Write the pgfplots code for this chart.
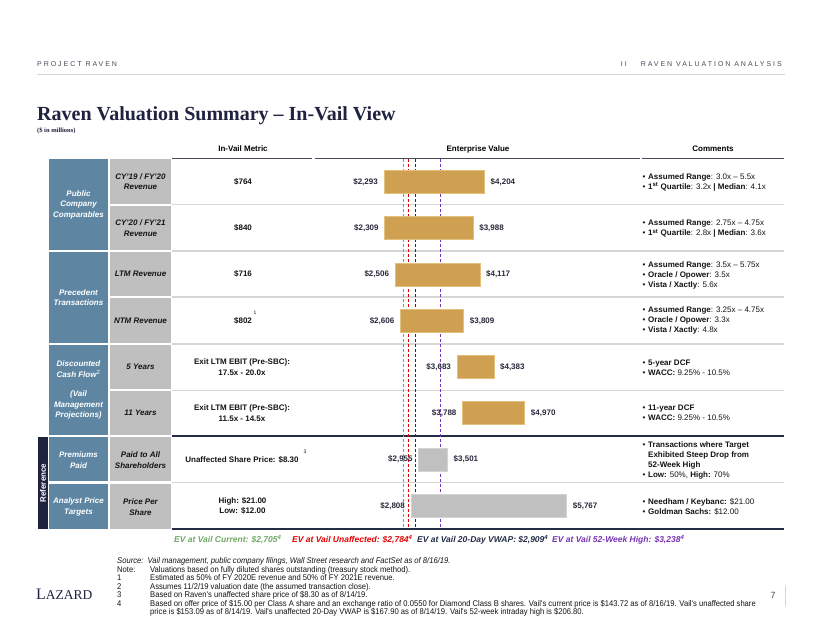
\documentclass[border=0pt]{standalone}
\usepackage{fontspec}
\setmainfont{Liberation Sans}
\newfontfamily\serifbf{Liberation Serif}
\newfontfamily\narrowf{Liberation Sans}[FakeStretch=0.92]
\newfontfamily\spacedf{Liberation Sans}[LetterSpace=28]
\usepackage{pgfplots}
\pgfplotsset{compat=1.18}
\definecolor{navy}{RGB}{31,35,64}
\definecolor{boxblue}{RGB}{94,134,163}
\definecolor{boxgray}{RGB}{191,191,191}
\definecolor{sepgray}{RGB}{214,214,214}
\definecolor{tanbar}{RGB}{207,160,82}
\definecolor{tanedge}{RGB}{228,192,125}
\definecolor{graybar}{RGB}{192,192,192}
\definecolor{grayedge}{RGB}{212,212,212}
\definecolor{lgreen}{RGB}{112,168,100}
\definecolor{lred}{RGB}{230,0,0}
\definecolor{lnavy}{RGB}{35,45,70}
\definecolor{lpurple}{RGB}{120,50,180}
\definecolor{hdrgray}{RGB}{70,75,90}
\definecolor{txt}{RGB}{20,20,20}
\definecolor{evtxt}{RGB}{40,42,60}
\newcommand{\fs}[2]{\fontsize{#1}{#2}\selectfont}
\newcommand{\cm}[2]{%
  \node[anchor=mid west,inner sep=0pt,font=\fs{8}{10},text=txt] at (648,#1) {#2};
  \node[anchor=mid west,inner sep=0pt,font=\fs{8}{10},text=txt] at (642.5,#1) {•};}
\newcommand{\cmc}[2]{%
  \node[anchor=mid west,inner sep=0pt,font=\fs{8}{10},text=txt] at (648,#1) {#2};}
\newcommand{\fn}[3]{%
  \node[anchor=mid west,inner sep=0pt,font=\narrowf\fs{8.3}{9},text=txt] at (117,#1) {#2};
  \node[anchor=mid west,inner sep=0pt,font=\narrowf\fs{8.3}{9},text=txt] at (150,#1) {#3};}
\pgfplotsset{evaxis/.style={
  at={(477.5pt,-344pt)}, anchor=center,
  width=325pt, height=370pt, scale only axis,
  xmin=981, xmax=7161, ymin=0.5, ymax=8.5, y dir=reverse,
  hide axis, clip=false}}
\begin{document}
\begin{tikzpicture}[x=1pt,y=-1pt]
\path[use as bounding box, fill=white] (0,0) rectangle (822,635);
% page header
\node[anchor=mid west,inner sep=0pt,font=\spacedf\fs{7}{8},text=hdrgray] at (37,64) {PROJECT RAVEN};
\node[anchor=mid east,inner sep=0pt,font=\spacedf\fs{7}{8},text=hdrgray] at (782,64) {II\hspace{14pt}RAVEN VALUATION ANALYSIS};
\draw[sepgray,line width=0.8pt] (37,74) -- (785,74);
\node[anchor=base west,inner sep=0pt,font=\serifbf\bfseries\fs{20}{24},text=navy] at (37,120) {Raven Valuation Summary – In-Vail View};
\node[anchor=mid west,inner sep=0pt,font=\serifbf\bfseries\fs{6.5}{8},text=navy] at (37,130) {(\$ in millions)};
% column headers
\node[font=\bfseries\fs{8}{10},inner sep=0pt,anchor=mid] at (243,149) {In-Vail Metric};
\node[font=\bfseries\fs{8}{10},inner sep=0pt,anchor=mid] at (478,149) {Enterprise Value};
\node[font=\bfseries\fs{8}{10},inner sep=0pt,anchor=mid] at (713,149) {Comments};
\draw[hdrgray,line width=0.9pt] (172,158) -- (312,158) (315,158) -- (640,158) (642,158) -- (784,158);
% row separators
\foreach \yy in {204.5,251,297,344,390.5,482.5}{\draw[sepgray,line width=1.5pt] (172,\yy) -- (784,\yy);}
\draw[lnavy,line width=1.2pt] (172,436) -- (784,436);
\draw[lnavy,line width=1.2pt] (172,529) -- (784,529);
% left boxes
\fill[navy] (38,437) rectangle (48,529);
\node[rotate=90,font=\bfseries\fs{8}{10},text=white,inner sep=0pt] at (43,483) {Reference};
\fill[boxblue] (49,159) rectangle (108,250);
\fill[boxblue] (49,252) rectangle (108,343);
\fill[boxblue] (49,345) rectangle (108,435);
\fill[boxblue] (49,437) rectangle (108,481);
\fill[boxblue] (49,484) rectangle (108,529);
\foreach \ya/\yb in {159/203.5,205.5/250,252/296,298/343,345/389,391/435,437/481,484/529}{\fill[boxgray] (110,\ya) rectangle (171,\yb);}
\begin{scope}[every node/.style={font=\bfseries\itshape\fs{8}{10.5},text=white,align=center,inner sep=0pt}]
\node at (78.5,204.5) {Public\\Company\\Comparables};
\node at (78.5,297.5) {Precedent\\Transactions};
\node at (78.5,369) {Discounted\\Cash Flow\textsuperscript{\mdseries\upshape 2}};
\node at (78.5,405) {(Vail\\Management\\Projections)};
\node at (78.5,460) {Premiums\\Paid};
\node at (78.5,507) {Analyst Price\\Targets};
\end{scope}
\begin{scope}[every node/.style={font=\bfseries\itshape\fs{8}{10.5},text=txt,align=center,inner sep=0pt}]
\node at (140.5,181.5) {CY'19 / FY'20\\Revenue};
\node at (140.5,228) {CY'20 / FY'21\\Revenue};
\node at (140.5,274) {LTM Revenue};
\node at (140.5,320.5) {NTM Revenue};
\node at (140.5,367) {5 Years};
\node at (140.5,413) {11 Years};
\node at (140.5,460) {Paid to All\\Shareholders};
\node at (140.5,507) {Price Per\\Share};
\end{scope}
% metric column
\begin{scope}[every node/.style={font=\bfseries\fs{8}{10.5},text=txt,align=center,inner sep=0pt}]
\node at (243,181.5) {\$764};
\node at (243,228) {\$840};
\node at (243,274) {\$716};
\node at (243,320.5) {\$802};
\node at (242,367) {Exit LTM EBIT (Pre-SBC):\\17.5x - 20.0x};
\node at (242,413) {Exit LTM EBIT (Pre-SBC):\\11.5x - 14.5x};
\node at (242,460) {Unaffected Share Price: \$8.30};
\node at (242.5,506) {High: \$21.00\\Low: \$12.00};
\end{scope}
\node[font=\fs{5}{6},text=txt,inner sep=0pt] at (255,313) {1};
\node[font=\fs{5}{6},text=txt,inner sep=0pt] at (305,452) {3};
% reference lines
\begin{axis}[evaxis]
\addplot[lgreen,line width=1.3pt,dash pattern=on 3pt off 2pt] coordinates {(2660,0.5) (2660,8.5)};
\addplot[lred,line width=1.3pt,dash pattern=on 3pt off 2pt] coordinates {(2755,0.5) (2755,8.5)};
\addplot[lnavy,line width=1.3pt,dash pattern=on 3pt off 2pt] coordinates {(2896,0.5) (2896,8.5)};
\addplot[lpurple,line width=1.1pt,dash pattern=on 3pt off 2pt] coordinates {(3364,0.5) (3364,8.5)};
\end{axis}
% valuation bars (methodologies): invisible offset + visible range
\begin{axis}[evaxis, xbar stacked, bar width=23pt]
\addplot[draw=none,fill=none]
 coordinates {(2293,1) (2309,2) (2506,3) (2606,4) (3683,5) (3788,6)};
\addplot[fill=tanbar,draw=tanedge,line width=0.8pt]
 coordinates {(1911,1) (1679,2) (1611,3) (1203,4) (700,5) (1182,6)};
\end{axis}
% reference bars
\begin{axis}[evaxis, xbar stacked, bar width=23pt]
\addplot[draw=none,fill=none]
 coordinates {(2955,7) (2808,8)};
\addplot[fill=graybar,draw=grayedge,line width=0.8pt]
 coordinates {(546,7) (2959,8)};
\end{axis}
% value labels
\begin{axis}[evaxis, nodes near coords, point meta=explicit symbolic]
\addplot[only marks,mark=none,every node near coord/.append style={anchor=east,xshift=-6pt,font=\bfseries\fs{8}{10},text=evtxt,inner sep=0pt}]
 coordinates {(2293,1) [{\$2,293}] (2309,2) [{\$2,309}] (2506,3) [{\$2,506}] (2606,4) [{\$2,606}] (3683,5) [{\$3,683}] (3788,6) [{\$3,788}] (2955,7) [{\$2,955}] (2808,8) [{\$2,808}]};
\addplot[only marks,mark=none,every node near coord/.append style={anchor=west,xshift=6pt,font=\bfseries\fs{8}{10},text=evtxt,inner sep=0pt}]
 coordinates {(4204,1) [{\$4,204}] (3988,2) [{\$3,988}] (4117,3) [{\$4,117}] (3809,4) [{\$3,809}] (4383,5) [{\$4,383}] (4970,6) [{\$4,970}] (3501,7) [{\$3,501}] (5767,8) [{\$5,767}]};
\end{axis}
% comments
\cm{176.7}{\textbf{Assumed Range}: 3.0x – 5.5x}
\cm{186.7}{\textbf{1\textsuperscript{st} Quartile}: 3.2x \textbf{|} \textbf{Median}: 4.1x}
\cm{223.3}{\textbf{Assumed Range}: 2.75x – 4.75x}
\cm{233.3}{\textbf{1\textsuperscript{st} Quartile}: 2.8x \textbf{|} \textbf{Median}: 3.6x}
\cm{265}{\textbf{Assumed Range}: 3.5x – 5.75x}
\cm{275}{\textbf{Oracle / Opower}: 3.5x}
\cm{285}{\textbf{Vista / Xactly}: 5.6x}
\cm{310}{\textbf{Assumed Range}: 3.25x – 4.75x}
\cm{320}{\textbf{Oracle / Opower}: 3.3x}
\cm{330}{\textbf{Vista / Xactly}: 4.8x}
\cm{362.5}{\textbf{5-year DCF}}
\cm{372.5}{\textbf{WACC:} 9.25\% - 10.5\%}
\cm{408}{\textbf{11-year DCF}}
\cm{418}{\textbf{WACC:} 9.25\% - 10.5\%}
\cm{445}{\textbf{Transactions where Target}}
\cmc{455}{\textbf{Exhibited Steep Drop from}}
\cmc{465}{\textbf{52-Week High}}
\cm{475}{\textbf{Low:} 50\%, \textbf{High:} 70\%}
\cm{501.5}{\textbf{Needham / Keybanc:} \$21.00}
\cm{511.5}{\textbf{Goldman Sachs:} \$12.00}
% legend of reference lines
\begin{scope}[every node/.style={anchor=mid west,inner sep=0pt,font=\bfseries\itshape\fs{8.5}{10}}]
\node[text=lgreen] at (174,540) {EV at Vail Current: \$2,705\textsuperscript{4}};
\node[text=lred] at (292,540) {EV at Vail Unaffected: \$2,784\textsuperscript{4}};
\node[text=lnavy] at (417,540) {EV at Vail 20-Day VWAP: \$2,909\textsuperscript{4}};
\node[text=lpurple] at (552,540) {EV at Vail 52-Week High: \$3,238\textsuperscript{4}};
\end{scope}
% footnotes
\node[anchor=mid west,inner sep=0pt,font=\narrowf\itshape\fs{8.3}{9},text=txt] at (117,561) {Source:\hspace{4pt}Vail management, public company filings, Wall Street research and FactSet as of 8/16/19.};
\fn{569.5}{Note:}{Valuations based on fully diluted shares outstanding (treasury stock method).}
\fn{578}{1}{Estimated as 50\% of FY 2020E revenue and 50\% of FY 2021E revenue.}
\fn{586.5}{2}{Assumes 11/2/19 valuation date (the assumed transaction close).}
\fn{595}{3}{Based on Raven's unaffected share price of \$8.30 as of 8/14/19.}
\fn{603.5}{4}{Based on offer price of \$15.00 per Class A share and an exchange ratio of 0.0550 for Diamond Class B shares. Vail's current price is \$143.72 as of 8/16/19. Vail's unaffected share}
\fn{612}{}{price is \$153.09 as of 8/14/19. Vail's unaffected 20-Day VWAP is \$167.90 as of 8/14/19. Vail's 52-week intraday high is \$206.80.}
% logo and page number
\node[anchor=mid west,inner sep=0pt,font=\serifbf\fs{16}{18},text=navy] at (36,597) {L{\fs{13.5}{16}AZARD}};
\node[anchor=mid,inner sep=0pt,font=\fs{9}{10},text=hdrgray] at (773,596) {7};
\draw[sepgray,line width=0.8pt] (785,586) -- (785,606);
\end{tikzpicture}
\end{document}
